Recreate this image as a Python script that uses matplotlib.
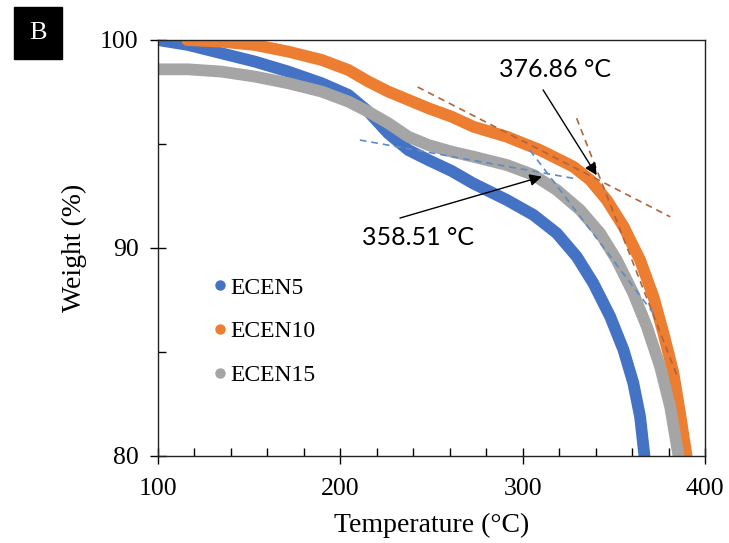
import matplotlib
matplotlib.use("Agg")
import matplotlib.pyplot as plt
from matplotlib.lines import Line2D
from matplotlib.patches import Rectangle
from matplotlib.ticker import MultipleLocator

# ECEN5 (blue)
t_ecen5 = [100, 116.6, 134.9, 153.2, 171.5, 189.8, 204.4, 215.4, 226.3, 237.3, 248.3,
           261.1, 273, 291.3, 305.9, 318.7, 329.7, 338.8, 348, 355.3, 360.7, 364.4, 366.8]
w_ecen5 = [100, 99.76, 99.36, 98.96, 98.48, 97.92, 97.36, 96.55, 95.51, 94.71, 94.23,
           93.7, 93.1, 92.31, 91.59, 90.71, 89.58, 88.3, 86.7, 85.1, 83.5, 81.89, 80.0]

# ECEN10 (orange)
t_ecen10 = [116, 134.9, 153.2, 171.5, 189.8, 204.4, 215.4, 226.3, 237.3, 248.3, 261.1,
            273, 291.3, 309.5, 327.8, 337, 346.1, 355.3, 364.4, 371.7, 377.2, 382.7,
            386.3, 389.9]
w_ecen10 = [100, 99.92, 99.76, 99.44, 99.04, 98.56, 98.0, 97.52, 97.12, 96.72, 96.31,
            95.83, 95.35, 94.71, 93.91, 93.27, 92.31, 91.03, 89.42, 87.66, 85.9, 83.98,
            82.05, 80.0]

# ECEN15 (gray)
t_ecen15 = [100, 116.6, 134.9, 153.2, 171.5, 189.8, 204.4, 215.4, 226.3, 237.3, 248.3,
            261.1, 273, 291.3, 305.9, 318.7, 331.5, 342.5, 351.6, 360.7, 368.1, 375.4,
            380.9, 385.5]
w_ecen15 = [98.59, 98.59, 98.48, 98.24, 97.92, 97.52, 97.04, 96.55, 96.0, 95.35, 94.95,
            94.63, 94.39, 93.99, 93.51, 92.79, 91.83, 90.71, 89.42, 87.82, 86.22, 84.29,
            82.37, 80.0]

# tangent (onset) construction lines
tan_orange_1 = ([242.4, 380.9], [97.74, 91.5])
tan_orange_2 = ([329.6, 384.5], [96.24, 83.9])
tan_blue_1 = ([210.7, 327.8], [95.19, 93.35])
tan_blue_2 = ([304, 371.7], [94.7, 86.86])

labels = ["ECEN5", "ECEN10", "ECEN15"]
colors = ["#4472C4", "#ED7D31", "#A5A5A5"]

serif = "Liberation Serif"

fig = plt.figure(figsize=(7.29, 5.43), dpi=100)
ax = fig.add_axes([158/729, 1-456/543, (705-158)/729, 416/543])

series = [(t_ecen5, w_ecen5), (t_ecen10, w_ecen10), (t_ecen15, w_ecen15)]
for (t, w), c in zip(series, colors):
    ax.plot(t, w, color=c, lw=8.5, solid_capstyle="round", solid_joinstyle="round")

ax.plot(*tan_orange_1, ls=(0, (4, 3)), color="#B0643A", lw=1.2)
ax.plot(*tan_orange_2, ls=(0, (4, 3)), color="#B0643A", lw=1.2)
ax.plot(*tan_blue_1, ls=(0, (4, 3)), color="#5B8BC9", lw=1.2)
ax.plot(*tan_blue_2, ls=(0, (4, 3)), color="#5B8BC9", lw=1.2)

ax.set_xlim(100, 400)
ax.set_ylim(80, 100)
ax.xaxis.set_major_locator(MultipleLocator(100))
ax.xaxis.set_minor_locator(MultipleLocator(20))
ax.yaxis.set_major_locator(MultipleLocator(10))
ax.yaxis.set_minor_locator(MultipleLocator(5))
ax.tick_params(which="major", direction="inout", length=12, width=1, labelsize=18.5)
ax.tick_params(which="minor", direction="in", length=6, width=1)
ax.tick_params(axis="x", which="major", pad=10)
ax.tick_params(axis="y", which="major", pad=8)
for lab in ax.get_xticklabels() + ax.get_yticklabels():
    lab.set_fontfamily(serif)
for s in ax.spines.values():
    s.set_linewidth(1)
    s.set_color("#222222")

ax.set_xlabel("Temperature (°C)", fontsize=20, family=serif, labelpad=9)
ax.set_ylabel("Weight (%)", fontsize=20, family=serif, labelpad=9)

# annotations
ax.text(317.8, 98.56, "376.86 °C", fontsize=18, family="Lato", ha="center", va="center")
ax.annotate("", xy=(340.6, 93.5), xytext=(311.2, 97.6),
            arrowprops=dict(arrowstyle="-|>", color="black", lw=1, mutation_scale=18,
                            shrinkA=0, shrinkB=0))
ax.text(242.6, 90.5, "358.51 °C", fontsize=18, family="Lato", ha="center", va="center")
ax.annotate("", xy=(310.5, 93.43), xytext=(232.7, 91.44),
            arrowprops=dict(arrowstyle="-|>", color="black", lw=1, mutation_scale=18,
                            shrinkA=0, shrinkB=0))

handles = [Line2D([], [], ls="none", marker="o", ms=6.5, color=c) for c in colors]
fig.legend(handles, labels, loc="upper left", bbox_to_anchor=(214/729, 1-277/543),
           frameon=False, prop={"family": serif, "size": 17}, handlelength=0.5,
           handletextpad=0.2, labelspacing=0.95, borderpad=0, borderaxespad=0)

# panel letter
fig.patches.append(Rectangle((14/729, 1-59/543), 48/729, 52/543,
                             transform=fig.transFigure, color="black"))
fig.text(38/729, 1-33/543, "B", color="white", fontsize=19, family=serif,
         ha="center", va="center")

fig.savefig("out.png", dpi=100)
